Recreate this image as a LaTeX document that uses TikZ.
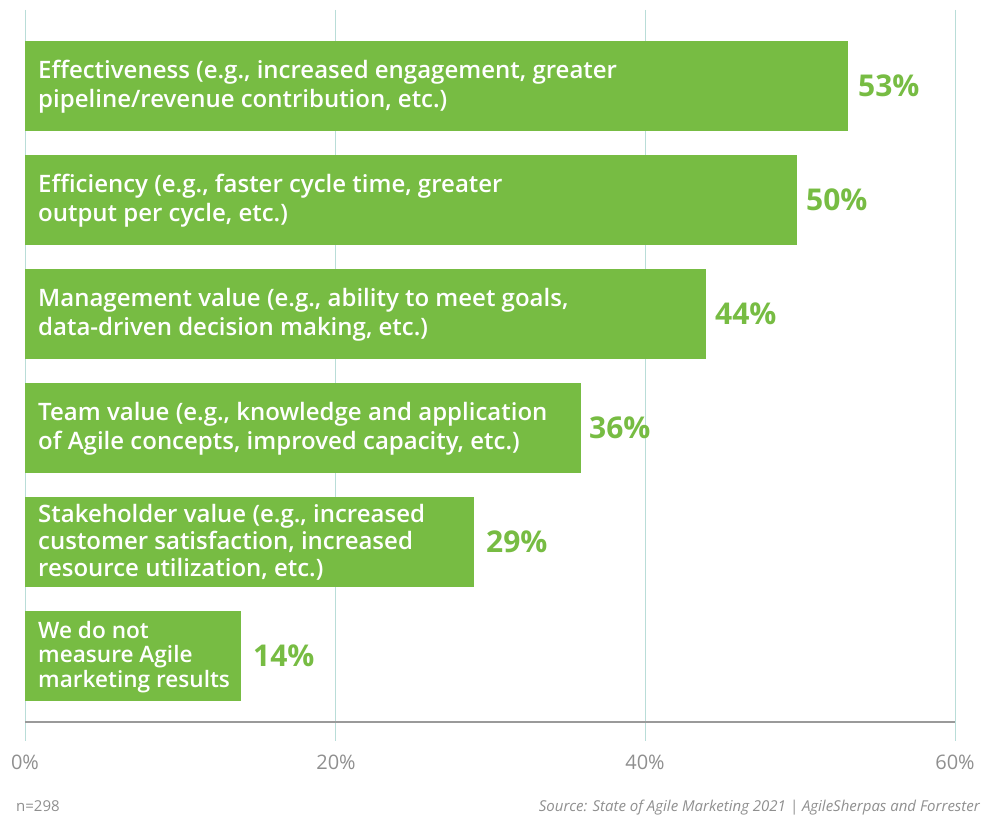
\documentclass[tikz,border=0pt]{standalone}
\usepackage{fontspec}
\setmainfont{Open Sans}
\IfFontExistsTF{Open Sans SemiBold}{\newfontfamily\sbfont{Open Sans SemiBold}\def\barsize{24}\def\smallsize{22.6}}{%
  \IfFontExistsTF{Open Sans Semibold}{\newfontfamily\sbfont{Open Sans Semibold}\def\barsize{24}\def\smallsize{22.6}}{%
    \newfontfamily\sbfont{Open Sans}[FakeBold=0.6]\def\barsize{25.4}\def\smallsize{23.9}}}
\definecolor{barg}{HTML}{77BC43}
\definecolor{gridc}{HTML}{B9DDD8}
\definecolor{axisc}{HTML}{9A9A9A}
\definecolor{labc}{HTML}{8F8F8F}
\begin{document}
\begin{tikzpicture}[x=1pt,y=-1pt,
  bar/.style={fill=barg, draw=none, anchor=north west, minimum height=90pt, inner sep=0pt, outer sep=0pt},
  bartext/.style={anchor=west, align=left, text=white, font=\sbfont\fontsize{\barsize}{29}\selectfont, inner sep=0pt},
  pct/.style={anchor=west, text=barg, font=\bfseries\fontsize{30}{30}\selectfont, inner sep=0pt},
  ticklab/.style={text=labc, font=\fontsize{20}{20}\selectfont, anchor=base},
  gridln/.style={draw=gridc, line width=1pt},
  foot/.style={text=labc, font=\fontsize{15}{15}\selectfont}]
\useasboundingbox (0,0) rectangle (991,816);
% gridlines
\foreach \x/\n in {25/g0,335/g20,645/g40,955/g60}{
  \coordinate (\n t) at (\x,10);
  \coordinate (\n b) at (\x,741);
  \draw[gridln] (\n t) -- (\n b);
}
% axis
\coordinate (ax0) at (25,722);
\coordinate (ax1) at (955,722);
\draw[draw=axisc, line width=2pt] (ax0) -- (ax1);
% bars
\node[bar, minimum width=823pt] (b1) at (25,41) {};
\node[bar, minimum width=772pt] (b2) at (25,155) {};
\node[bar, minimum width=681pt] (b3) at (25,269) {};
\node[bar, minimum width=556pt] (b4) at (25,383) {};
\node[bar, minimum width=449pt] (b5) at (25,497) {};
\node[bar, minimum width=216pt] (b6) at (25,611) {};
% bar texts
\node[bartext] (t1) at ([xshift=13pt,yshift=-1pt]b1.west) {Effectiveness (e.g., increased engagement, greater\\pipeline/revenue contribution, etc.)};
\node[bartext] (t2) at ([xshift=13pt,yshift=-1pt]b2.west) {Efficiency (e.g., faster cycle time, greater\\output per cycle, etc.)};
\node[bartext] (t3) at ([xshift=13pt,yshift=-1pt]b3.west) {Management value (e.g., ability to meet goals,\\data-driven decision making, etc.)};
\node[bartext] (t4) at ([xshift=13pt,yshift=-1pt]b4.west) {Team value (e.g., knowledge and application\\of Agile concepts, improved capacity, etc.)};
\node[bartext, font=\sbfont\fontsize{\barsize}{27}\selectfont] (t5) at ([xshift=13pt,yshift=0pt]b5.west) {Stakeholder value (e.g., increased\\customer satisfaction, increased\\resource utilization, etc.)};
\node[bartext, font=\sbfont\fontsize{\smallsize}{24.5}\selectfont] (t6) at ([xshift=13pt,yshift=-1pt]b6.west) {We do not\\measure Agile\\marketing results};
% percentages
\node[pct] (p1) at ([xshift=10pt]b1.east) {53\%};
\node[pct] (p2) at ([xshift=9pt]b2.east) {50\%};
\node[pct] (p3) at ([xshift=9pt]b3.east) {44\%};
\node[pct] (p4) at ([xshift=8pt]b4.east) {36\%};
\node[pct] (p5) at ([xshift=12pt]b5.east) {29\%};
\node[pct] (p6) at ([xshift=12pt]b6.east) {14\%};
% tick labels
\node[ticklab] (l0) at (25,769) {0\%};
\node[ticklab] (l20) at (336,769) {20\%};
\node[ticklab] (l40) at (645,769) {40\%};
\node[ticklab] (l60) at (955,769) {60\%};
% footer
\node[foot, anchor=base west, inner sep=0pt] (n) at (16,811) {n=298};
\node[foot, anchor=base east, inner sep=0pt, font=\itshape\fontsize{15}{15}\selectfont] (src) at (980,811) {Source: State of Agile Marketing 2021 | AgileSherpas and Forrester};
\end{tikzpicture}
\end{document}
